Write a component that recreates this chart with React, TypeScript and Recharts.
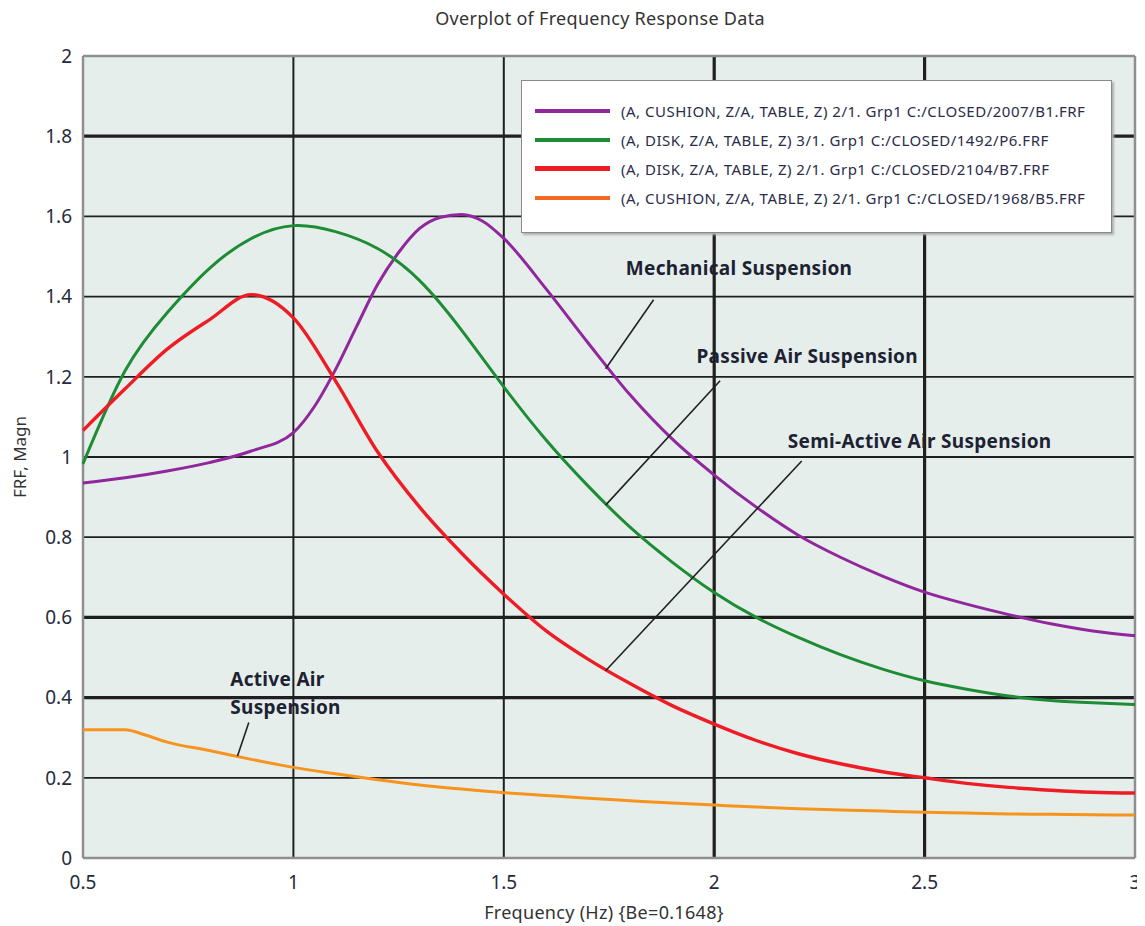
import React from "react";
import {
  LineChart,
  Line,
  XAxis,
  YAxis,
  CartesianGrid,
  ReferenceLine,
  ReferenceDot,
} from "recharts";

// frequency grid (Hz) used by the passive and semi-active curves
const FREQ = [
  0.5, 0.6, 0.7, 0.8, 0.9, 1.0, 1.1, 1.2, 1.3, 1.4, 1.5, 1.6, 1.7, 1.8, 1.9,
  2.0, 2.1, 2.2, 2.3, 2.4, 2.5, 2.6, 2.7, 2.8, 2.9, 3.0,
];

// mechanical curve is sampled finer around its resonance peak
const MECH_FREQ = [
  0.5, 0.6, 0.7, 0.8, 0.9, 1.0, 1.05, 1.1, 1.15, 1.2, 1.25, 1.3, 1.35, 1.4,
  1.45, 1.5, 1.6, 1.7, 1.8, 1.9, 2.0, 2.1, 2.2, 2.3, 2.4, 2.5, 2.6, 2.7, 2.8,
  2.9, 3.0,
];
const MECHANICAL = [
  0.935, 0.948, 0.965, 0.986, 1.015, 1.061, 1.126, 1.218, 1.325, 1.43, 1.51,
  1.57, 1.598, 1.605, 1.588, 1.545, 1.42, 1.285, 1.155, 1.045, 0.955, 0.875,
  0.805, 0.75, 0.703, 0.663, 0.633, 0.607, 0.584, 0.566, 0.554,
];

const PASSIVE_AIR = [
  0.983, 1.215, 1.36, 1.47, 1.545, 1.577, 1.562, 1.52, 1.44, 1.316, 1.175,
  1.043, 0.928, 0.825, 0.738, 0.662, 0.6, 0.55, 0.507, 0.471, 0.442, 0.421,
  0.404, 0.393, 0.387, 0.383,
];

const SEMI_ACTIVE_AIR = [
  1.066, 1.17, 1.269, 1.342, 1.405, 1.347, 1.19, 1.013, 0.875, 0.76, 0.658,
  0.567, 0.496, 0.435, 0.38, 0.334, 0.293, 0.26, 0.235, 0.215, 0.2, 0.186,
  0.176, 0.169, 0.164, 0.162,
];

// active curve has an extra sample where it leaves its flat start
const ACTIVE_FREQ = [
  0.5, 0.6, 0.65, 0.7, 0.8, 0.9, 1.0, 1.1, 1.2, 1.3, 1.4, 1.5, 1.6, 1.7, 1.8,
  1.9, 2.0, 2.1, 2.2, 2.3, 2.4, 2.5, 2.6, 2.7, 2.8, 2.9, 3.0,
];
const ACTIVE_AIR = [
  0.32, 0.32, 0.306, 0.289, 0.268, 0.246, 0.226, 0.21, 0.195, 0.182, 0.172,
  0.163, 0.156, 0.149, 0.143, 0.137, 0.132, 0.127, 0.123, 0.12, 0.117, 0.114,
  0.112, 0.11, 0.109, 0.108, 0.107,
];

const X_TICKS = [0.5, 1, 1.5, 2, 2.5, 3];
const Y_TICKS = [0, 0.2, 0.4, 0.6, 0.8, 1, 1.2, 1.4, 1.6, 1.8, 2];

const SERIES = [
  {
    key: "mech",
    freq: MECH_FREQ,
    values: MECHANICAL,
    color: "#90279c",
    curve: "monotone",
    legend: "(A, CUSHION, Z/A, TABLE, Z) 2/1. Grp1 C:/CLOSED/2007/B1.FRF",
  },
  {
    key: "passive",
    freq: FREQ,
    values: PASSIVE_AIR,
    color: "#1e8c35",
    curve: "natural",
    legend: "(A, DISK, Z/A, TABLE, Z) 3/1. Grp1 C:/CLOSED/1492/P6.FRF",
  },
  {
    key: "semi",
    freq: FREQ,
    values: SEMI_ACTIVE_AIR,
    color: "#ee1d25",
    curve: "monotone",
    legend: "(A, DISK, Z/A, TABLE, Z) 2/1. Grp1 C:/CLOSED/2104/B7.FRF",
  },
  {
    key: "active",
    freq: ACTIVE_FREQ,
    values: ACTIVE_AIR,
    color: "#f7941d",
    curve: "monotone",
    legend: "(A, CUSHION, Z/A, TABLE, Z) 2/1. Grp1 C:/CLOSED/1968/B5.FRF",
  },
];

// callouts: text anchor and leader line, in data units
const CALLOUTS = [
  { lines: ["Mechanical Suspension"], at: [1.79, 1.47], from: [1.742, 1.22], to: [1.856, 1.392] },
  { lines: ["Passive Air Suspension"], at: [1.958, 1.25], from: [1.742, 0.88], to: [2.014, 1.19] },
  { lines: ["Semi-Active Air Suspension"], at: [2.175, 1.04], from: [1.742, 0.467], to: [2.208, 0.99] },
  { lines: ["Active Air", "Suspension"], at: [0.85, 0.445], from: [0.867, 0.254], to: [0.894, 0.338] },
];

const FONT = '"Noto Sans", "Open Sans", sans-serif';
const HEAVY_X = [2, 2.5];
const HEAVY_Y = [0.4, 0.6, 1.8];

const W = 1137;
const H = 918;

function CalloutText({ viewBox, lines }: any) {
  const x = viewBox?.x ?? 0;
  const y = viewBox?.y ?? 0;
  return (
    <text
      x={x}
      y={y}
      fontFamily={FONT}
      fontWeight={700}
      fontSize={19}
      letterSpacing={0.3}
      fill="#1d2233"
    >
      {lines.map((l: string, i: number) => (
        <tspan key={l} x={x} dy={i === 0 ? "0.35em" : "1.45em"}>
          {l}
        </tspan>
      ))}
    </text>
  );
}

export default function App() {
  const fmt = (v: number) => String(Number(v.toFixed(1)));

  return (
    <div style={{ position: "relative", width: W, height: H, fontFamily: FONT }}>
      <div
        style={{
          position: "absolute",
          top: 0,
          left: 342,
          width: 500,
          textAlign: "center",
          fontSize: 18,
          letterSpacing: 0.3,
          lineHeight: "20px",
          color: "#333",
        }}
      >
        Overplot of Frequency Response Data
      </div>

      <LineChart
        width={W}
        height={H}
        margin={{ top: 48, right: 10, left: 5, bottom: 6 }}
      >
        <CartesianGrid horizontal={false} vertical={false} fill="#e6eeec" />

        {Y_TICKS.filter((v) => v > 0 && v < 2).map((v) => (
          <ReferenceLine
            key={`gy${v}`}
            y={v}
            stroke="#1f1f1f"
            strokeWidth={HEAVY_Y.includes(v) ? 3.2 : 1.8}
          />
        ))}
        {X_TICKS.filter((v) => v > 0.5 && v < 3).map((v) => (
          <ReferenceLine
            key={`gx${v}`}
            x={v}
            stroke="#1f1f1f"
            strokeWidth={HEAVY_X.includes(v) ? 3.2 : 2}
          />
        ))}
        <ReferenceLine y={0} stroke="#8f8f8f" strokeWidth={2.5} />
        <ReferenceLine y={2} stroke="#8f8f8f" strokeWidth={2.5} />
        <ReferenceLine x={0.5} stroke="#8f8f8f" strokeWidth={2.5} />
        <ReferenceLine x={3} stroke="#8f8f8f" strokeWidth={2.5} />

        <XAxis
          dataKey="f"
          type="number"
          domain={[0.5, 3]}
          ticks={X_TICKS}
          tickFormatter={fmt}
          allowDuplicatedCategory={false}
          axisLine={false}
          tickLine={false}
          tickSize={16}
          height={62}
          tick={{ fontSize: 19, fill: "#262a3c", fontFamily: FONT }}
          label={{
            value: "Frequency (Hz) {Be=0.1648}",
            position: "insideBottom",
            offset: 1,
            dx: -5,
            fontSize: 18,
            letterSpacing: 0.3,
            fill: "#333",
            fontFamily: FONT,
          }}
        />
        <YAxis
          type="number"
          domain={[0, 2]}
          ticks={Y_TICKS}
          tickFormatter={fmt}
          axisLine={false}
          tickLine={false}
          tickSize={9}
          width={70}
          tick={{ fontSize: 19, fill: "#262a3c", fontFamily: FONT }}
          label={{
            value: "FRF, Magn",
            angle: -90,
            position: "insideLeft",
            offset: 7,
            fontSize: 17,
            fill: "#333",
            fontFamily: FONT,
            style: { textAnchor: "middle" },
          }}
        />

        {SERIES.map((s) => (
          <Line
            key={s.key}
            data={s.freq.map((f, i) => ({ f, v: s.values[i] }))}
            dataKey="v"
            type={s.curve as any}
            stroke={s.color}
            strokeWidth={s.key === "semi" ? 3.4 : 3}
            dot={false}
            activeDot={false}
            isAnimationActive={false}
          />
        ))}

        {CALLOUTS.map((c) => (
          <ReferenceLine
            key={`lead${c.lines[0]}`}
            segment={[
              { x: c.from[0], y: c.from[1] },
              { x: c.to[0], y: c.to[1] },
            ]}
            stroke="#222"
            strokeWidth={1.6}
          />
        ))}
        {CALLOUTS.map((c) => (
          <ReferenceDot
            key={`txt${c.lines[0]}`}
            x={c.at[0]}
            y={c.at[1]}
            r={0}
            fill="none"
            stroke="none"
            label={<CalloutText lines={c.lines} />}
          />
        ))}
      </LineChart>

      <div
        style={{
          position: "absolute",
          left: 513,
          top: 72,
          width: 591,
          height: 153,
          background: "#fff",
          border: "1px solid #8a8a8a",
          boxShadow: "2px 2px 2px #b0b0b0",
          paddingTop: 15,
          boxSizing: "border-box",
        }}
      >
        {SERIES.map((s) => (
          <div
            key={s.key}
            style={{ display: "flex", alignItems: "center", height: 29 }}
          >
            <div
              style={{
                marginLeft: 13,
                width: 75,
                height: s.key === "semi" ? 5 : 4,
                background: s.key === "active" ? "#f26a22" : s.color,
              }}
            />
            <span
              style={{
                marginLeft: 11,
                fontSize: 15,
                letterSpacing: 0.5,
                color: "#2a2d4a",
                whiteSpace: "nowrap",
              }}
            >
              {s.legend}
            </span>
          </div>
        ))}
      </div>
    </div>
  );
}
